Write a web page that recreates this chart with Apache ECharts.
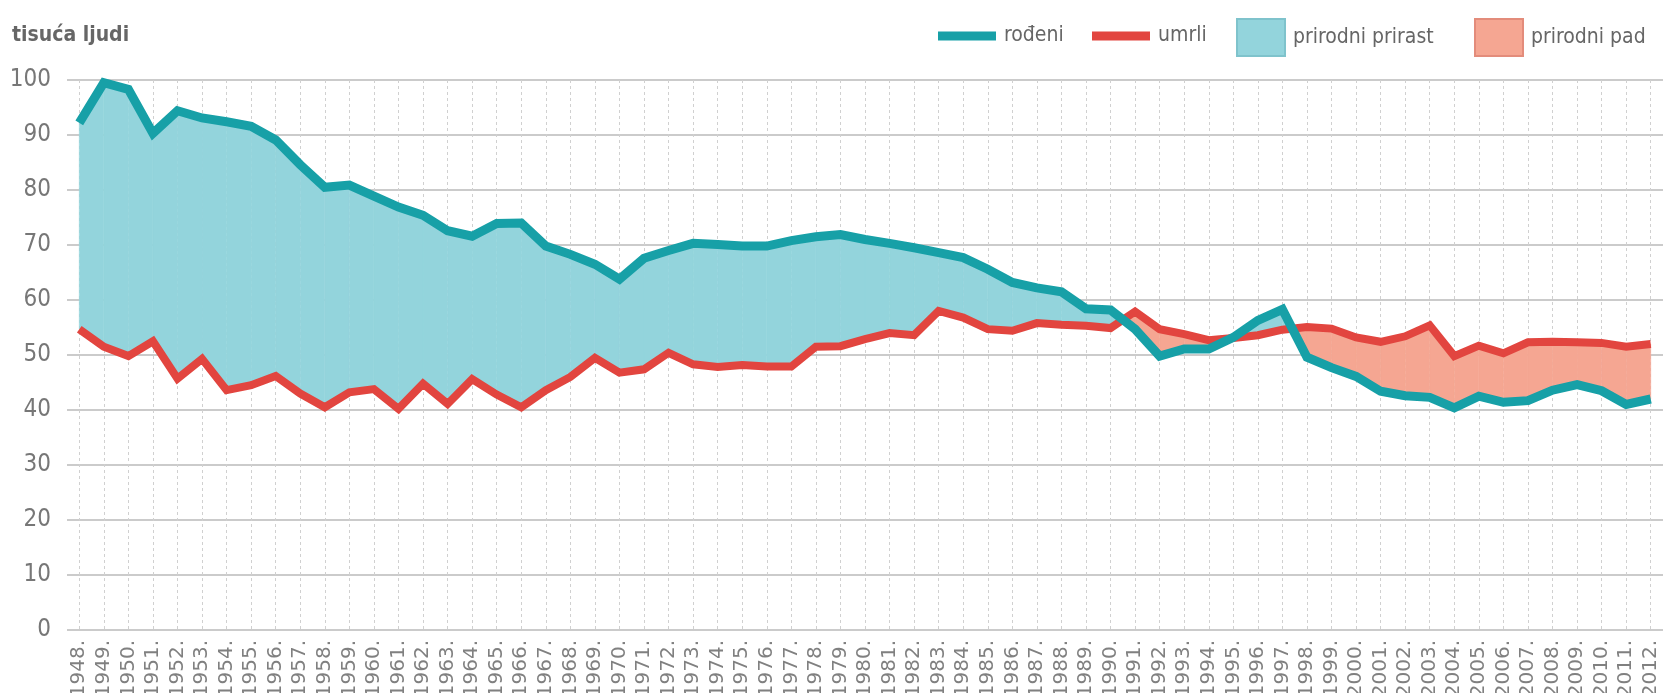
<!DOCTYPE html>
<html>
<head>
<meta charset="utf-8">
<script src="https://cdn.jsdelivr.net/npm/echarts@6/dist/echarts.min.js"></script>
<style>
  html, body { margin: 0; padding: 0; background: #fff; }
  #mainChart { width: 1671px; height: 693px; }
</style>
</head>
<body>
<div id="mainChart"></div>
<script>
var years = ['1948', '1949', '1950', '1951', '1952', '1953', '1954', '1955', '1956', '1957',
    '1958', '1959', '1960', '1961', '1962', '1963', '1964', '1965', '1966', '1967',
    '1968', '1969', '1970', '1971', '1972', '1973', '1974', '1975', '1976', '1977',
    '1978', '1979', '1980', '1981', '1982', '1983', '1984', '1985', '1986', '1987',
    '1988', '1989', '1990', '1991', '1992', '1993', '1994', '1995', '1996', '1997',
    '1998', '1999', '2000', '2001', '2002', '2003', '2004', '2005', '2006', '2007',
    '2008', '2009', '2010', '2011', '2012'];

// rođeni (tisuća)
var births = [92.2, 99.5, 98.3, 90.3, 94.4, 93.1, 92.4, 91.6, 89.1, 84.6,
    80.5, 80.9, 78.9, 76.9, 75.4, 72.6, 71.6, 73.9, 74.0, 69.8,
    68.3, 66.5, 63.8, 67.6, 69.0, 70.3, 70.1, 69.8, 69.8, 70.8,
    71.5, 71.9, 71.0, 70.3, 69.5, 68.6, 67.7, 65.6, 63.2, 62.2,
    61.5, 58.4, 58.2, 54.7, 49.8, 51.1, 51.1, 53.2, 56.3, 58.3,
    49.6, 47.7, 46.1, 43.4, 42.6, 42.3, 40.4, 42.5, 41.4, 41.7,
    43.6, 44.6, 43.5, 41.0, 42.0];

// umrli (tisuća)
var deaths = [54.7, 51.5, 49.8, 52.5, 45.7, 49.3, 43.6, 44.5, 46.2, 43.0,
    40.5, 43.2, 43.8, 40.2, 44.8, 41.1, 45.6, 42.8, 40.5, 43.6,
    46.0, 49.5, 46.8, 47.4, 50.4, 48.3, 47.8, 48.2, 47.9, 47.9,
    51.5, 51.6, 52.9, 54.0, 53.6, 58.0, 56.8, 54.7, 54.4, 55.8,
    55.5, 55.3, 54.9, 57.9, 54.7, 53.8, 52.7, 53.1, 53.6, 54.6,
    55.1, 54.8, 53.2, 52.4, 53.4, 55.4, 49.8, 51.7, 50.3, 52.3,
    52.4, 52.3, 52.2, 51.5, 52.0];

var names = ['rođeni', 'umrli', 'prirodni prirast', 'prirodni pad'];
var colors = ['#17a0a7', '#e2453f', '#93d4dc', '#f5a692'];
var condFont = "'DejaVu Sans Condensed', 'Liberation Sans', sans-serif";

var myChart = echarts.init(document.getElementById('mainChart'));

// area between the two lines, split at crossings; sign 1 = prirast, -1 = pad
function areaRenderer(sign, fill) {
    return function (params, api) {
        var i = params.dataIndex;
        if (i >= years.length - 1) return;
        var d0 = (births[i] - deaths[i]) * sign;
        var d1 = (births[i + 1] - deaths[i + 1]) * sign;
        var b0 = api.coord([i, births[i]]), b1 = api.coord([i + 1, births[i + 1]]);
        var m0 = api.coord([i, deaths[i]]), m1 = api.coord([i + 1, deaths[i + 1]]);
        var pts;
        if (d0 >= 0 && d1 >= 0) {
            pts = [b0, b1, m1, m0];
        } else if (d0 <= 0 && d1 <= 0) {
            return;
        } else {
            var t = d0 / (d0 - d1);
            var x = [b0[0] + (b1[0] - b0[0]) * t, b0[1] + (b1[1] - b0[1]) * t];
            pts = d0 > 0 ? [b0, x, m0] : [x, b1, m1];
        }
        return {
            type: 'polygon',
            shape: {points: pts},
            style: {fill: fill, stroke: fill, lineWidth: 0.5}
        };
    };
}

var segData = years.map(function (y, i) { return [i, births[i]]; });

function legendBox(name, left, w, h) {
    return {
        data: [name],
        left: left,
        top: 35 - 17,
        padding: 0,
        icon: 'rect',
        itemWidth: w,
        itemHeight: h,
        selectedMode: false,
        textStyle: {fontFamily: condFont, fontSize: 21, color: '#666', lineHeight: 36, padding: [0, 0, 0, 3]}
    };
}

myChart.setOption({
    animation: false,
    title: {
        text: 'tisuća ljudi',
        left: 12,
        top: 25,
        padding: 0,
        textStyle: {fontFamily: condFont, fontSize: 21, fontWeight: 'bold', color: '#666'}
    },
    legend: [
        legendBox(names[0], 938, 58, 9),
        legendBox(names[1], 1092, 58, 9),
        legendBox(names[2], 1236, 48, 37),
        legendBox(names[3], 1474, 48, 37)
    ],
    grid: {left: 67, right: 8, top: 80, bottom: 63, outerBoundsMode: 'none', containLabel: false},
    xAxis: {
        type: 'category',
        data: years,
        boundaryGap: true,
        axisLine: {show: false},
        axisTick: {show: false, alignWithLabel: true},
        axisLabel: {
            rotate: 90,
            interval: 0,
            margin: 10,
            fontFamily: "'DejaVu Sans', sans-serif",
            fontSize: 20,
            color: '#808080',
            formatter: function (v) { return v + '.'; }
        },
        splitLine: {
            show: true,
            alignWithLabel: true,
            interval: 0,
            lineStyle: {color: '#d0d0d0', width: 1, type: [3, 3]}
        }
    },
    yAxis: {
        type: 'value',
        min: 0,
        max: 100,
        interval: 10,
        axisLine: {show: false},
        axisTick: {show: false},
        axisLabel: {fontFamily: condFont, fontSize: 24, color: '#777', margin: 16},
        splitLine: {lineStyle: {color: '#cbcbcb', width: 2}}
    },
    series: [{
        name: names[2],
        type: 'custom',
        renderItem: areaRenderer(1, colors[2]),
        itemStyle: {color: colors[2], borderColor: '#7fc3cc', borderWidth: 1},
        data: segData,
        z: 1
    }, {
        name: names[3],
        type: 'custom',
        renderItem: areaRenderer(-1, colors[3]),
        itemStyle: {color: colors[3], borderColor: '#e38c7b', borderWidth: 1},
        data: segData,
        z: 1
    }, {
        name: names[1],
        type: 'line',
        data: deaths,
        symbol: 'none',
        itemStyle: {color: colors[1]},
        lineStyle: {color: colors[1], width: 8, join: 'miter'},
        z: 3
    }, {
        name: names[0],
        type: 'line',
        data: births,
        symbol: 'none',
        itemStyle: {color: colors[0]},
        lineStyle: {color: colors[0], width: 9, join: 'miter'},
        z: 4
    }]
});
</script>
</body>
</html>
